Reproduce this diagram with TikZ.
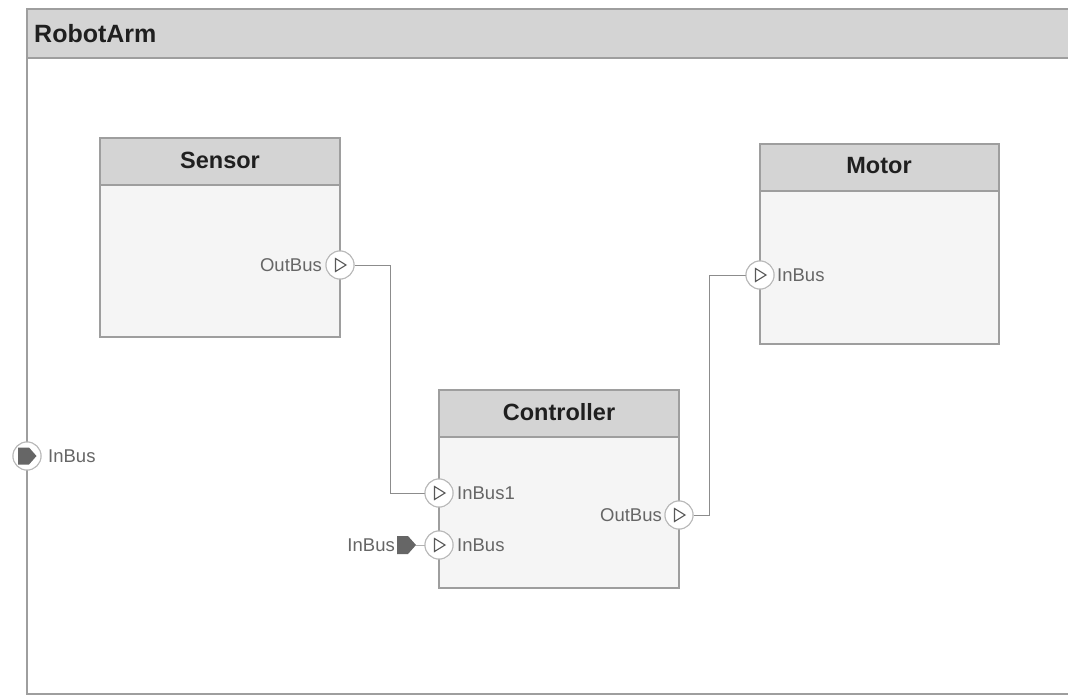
\documentclass[tikz,border=0pt]{standalone}
\usepackage{fontspec}
\setmainfont{Liberation Sans}
\begin{document}
\begin{tikzpicture}[x=1pt,y=-1pt,
  frame/.style={draw=black!38,line width=1.2pt},
  hdr/.style={frame,fill=black!17},
  body/.style={frame,fill=black!4},
  wire/.style={draw=black!45,line width=1pt},
  port/.style={circle,draw=black!28,fill=white,line width=1pt,minimum size=28pt,inner sep=0pt},
  plabel/.style={text=black!60,font=\fontsize{18.5}{21}\selectfont,inner sep=0pt},
  title/.style={font=\bfseries\fontsize{23.5}{26}\selectfont,text=black!88,inner sep=0pt},
  tri/.style={draw=black!65,line width=1.1pt,line join=miter},
  plug/.style={fill=black!60,draw=none}]
\useasboundingbox (0,0) rectangle (1068,696);
\fill[white] (0,0) rectangle (1068,696);

% outer architecture frame
\draw[frame,fill=white] (1075,9) -- (27,9) -- (27,694) -- (1075,694);
\draw[hdr] (1075,9) -- (27,9) -- (27,58) -- (1075,58);
\node[title,anchor=west,font=\bfseries\fontsize{25}{28}\selectfont] (arm) at (34,34) {RobotArm};

% components
\draw[body] (100,138) rectangle (340,337);
\draw[hdr] (100,138) rectangle (340,185);
\node[title] (sensor) at (220,160) {Sensor};

\draw[body] (760,144) rectangle (999,344);
\draw[hdr] (760,144) rectangle (999,191);
\node[title] (motor) at (879,166) {Motor};

\draw[body] (439,390) rectangle (679,588);
\draw[hdr] (439,390) rectangle (679,437);
\node[title] (ctrl) at (559,412) {Controller};

% connectors
\coordinate (s1) at (390,265);
\coordinate (s2) at (390,493);
\coordinate (c1) at (709,515);
\coordinate (c2) at (709,275);
\node[port] (sOut) at (340,265) {};
\node[port] (mIn) at (760,275) {};
\node[port] (cIn1) at (439,493) {};
\node[port] (cIn) at (439,545) {};
\node[port] (cOut) at (679,515) {};
\node[port] (aIn) at (27,456) {};

\draw[wire] (sOut.east) -- (s1) -- (s2) -- (cIn1.west);
\draw[wire] (cOut.east) -- (c1) -- (c2) -- (mIn.west);

% redraw port circles above wires
\foreach \p in {sOut,mIn,cIn1,cIn,cOut,aIn}
  \node[port] at (\p) {};

% direction triangles
\foreach \p in {sOut,mIn,cIn1,cIn,cOut}
  \draw[tri] ([shift={(-4.5,-6.5)}]\p.center) -- ([shift={(6,0)}]\p.center) -- ([shift={(-4.5,6.5)}]\p.center) -- cycle;

% root inport inside the outer port
\fill[plug] ([shift={(-9,-8.5)}]aIn.center) -- ([shift={(2,-8.5)}]aIn.center) -- ([shift={(9.5,0)}]aIn.center) -- ([shift={(2,8.5)}]aIn.center) -- ([shift={(-9,8.5)}]aIn.center) -- cycle;

% inport block feeding the controller
\coordinate (ip) at (406,545);
\fill[plug] ([shift={(-9,-9)}]ip) -- ([shift={(2,-9)}]ip) -- ([shift={(10,0)}]ip) -- ([shift={(2,9)}]ip) -- ([shift={(-9,9)}]ip) -- cycle;
\draw[wire,draw=black!30] ([shift={(10,0)}]ip) -- (cIn.west);

% labels
\node[plabel,anchor=east] (lsOut) at (322,265) {OutBus};
\node[plabel,anchor=west] (lmIn) at (777,275) {InBus};
\node[plabel,anchor=west] (lcIn1) at (457,493) {InBus1};
\node[plabel,anchor=west] (lcIn) at (457,545) {InBus};
\node[plabel,anchor=east] (lcOut) at (662,515) {OutBus};
\node[plabel,anchor=west] (laIn) at (48,456) {InBus};
\node[plabel,anchor=east] (lip) at (395,545) {InBus};
\end{tikzpicture}
\end{document}
